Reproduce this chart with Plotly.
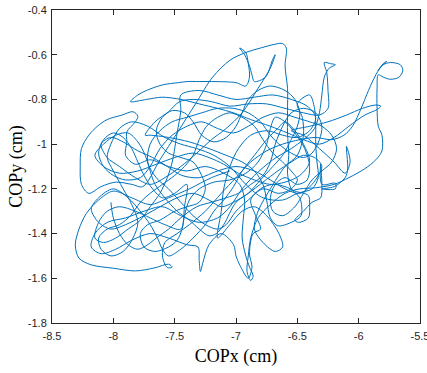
import plotly.graph_objects as go

# COP trajectory (cm)
cop_x = [
    -7.05, -7.20, -7.38, -7.55, -7.70, -7.85, -8.00, -8.12, -8.22, -8.28, -8.31, -8.28, -8.18, -8.00, -7.82,
    -7.66, -7.55, -7.52, -7.56, -7.60, -7.58, -7.48, -7.38, -7.25, -7.12, -7.00, -6.88, -6.75, -6.62,
    -6.48, -6.35, -6.22, -6.12, -6.05, -5.98, -5.92, -5.86, -5.80, -5.77, -5.82, -5.84, -5.80, -5.74,
    -5.66, -5.64, -5.67, -5.74, -5.80, -5.84, -5.85, -5.85, -5.84, -5.81, -5.81, -5.86, -5.95, -6.08,
    -6.20, -6.35, -6.48,
    -6.60, -6.72, -6.82, -6.88, -6.90, -6.91, -6.88, -6.86, -6.89, -6.92, -6.95, -6.94, -6.93, -6.97,
    -7.10, -7.25, -7.40, -7.55, -7.70, -7.82, -7.90, -7.89, -7.89, -7.82, -7.80, -7.84, -7.93, -8.05,
    -8.13, -8.20, -8.26, -8.27, -8.26, -8.20, -8.10, -7.98, -7.85, -7.76,
    -7.62, -7.48, -7.33, -7.19, -7.05, -6.92, -6.80, -6.68, -6.62, -6.59, -6.60, -6.58, -6.58, -6.58,
    -6.57, -6.58, -6.55, -6.48, -6.47, -6.55, -6.66, -6.72, -6.75, -6.78, -6.85, -6.95, -7.08, -7.22,
    -7.38, -7.55, -7.70, -7.74, -7.66, -7.55, -7.46, -7.35, -7.20, -7.05, -6.90, -6.75, -6.60, -6.45,
    -6.32, -6.25, -6.25, -6.26, -6.28, -6.23, -6.19, -6.24, -6.28, -6.30, -6.32, -6.36, -6.45, -6.55,
    -6.70, -6.85,
    -6.95, -7.05, -7.15, -7.30, -7.45, -7.60, -7.75, -7.90, -8.05, -8.15, -8.18, -8.10, -7.98, -7.85,
    -7.70, -7.55, -7.40, -7.31, -7.30, -7.29, -7.27, -7.22, -7.12, -7.02, -7.00, -6.97, -6.90, -6.87,
    -6.89, -6.86, -6.80, -6.84, -6.88, -6.80, -6.70, -6.60,
    -6.52, -6.41, -6.40, -6.41, -6.49, -6.52, -6.45, -6.38, -6.31, -6.30, -6.31, -6.30, -6.19, -6.19,
    -6.30, -6.20, -6.11, -6.09, -6.10, -6.07, -6.11, -6.20, -6.32,
    -6.45, -6.55, -6.40, -6.25, -6.10, -5.97, -5.86, -5.82, -5.85, -5.95, -6.08, -6.20, -6.32, -6.45,
    -6.58, -6.72, -6.88, -7.02, -7.15, -7.30, -7.45, -7.60, -7.73, -7.86, -7.80, -7.73, -7.60, -7.47,
    -7.40, -7.30, -7.20, -7.00, -6.92, -6.89, -6.90, -6.92, -6.97, -6.93, -6.89, -6.87, -6.85, -6.76,
    -6.70, -6.68, -6.72, -6.82, -6.95, -7.08, -7.20, -7.32, -7.45, -7.58, -7.70, -7.82, -7.95, -8.05,
    -8.10, -8.02, -7.92, -7.80, -7.68, -7.56, -7.44, -7.30, -7.15, -7.00, -6.85, -6.72, -6.60, -6.48,
    -6.38, -6.30, -6.36, -6.45, -6.55, -6.66, -6.78, -6.90, -7.02, -7.12, -7.22, -7.35, -7.48, -7.62,
    -7.75, -7.90, -8.02, -8.12, -8.18, -8.12, -8.00, -7.88, -7.78, -7.70, -7.64, -7.60, -7.55, -7.45,
    -7.35, -7.25, -7.18, -7.10, -7.02, -6.95, -6.85, -6.75, -6.66, -6.60, -6.52, -6.45, -6.40, -6.48,
    -6.60, -6.72, -6.85, -6.98, -7.10, -7.22, -7.35, -7.50, -7.65, -7.80, -7.95, -8.08, -8.15, -8.08,
    -7.98, -7.88, -7.80, -7.74, -7.70, -7.66, -7.58, -7.48, -7.38, -7.30, -7.22, -7.16, -7.10,
    -7.00, -6.90, -6.80, -6.70, -6.62, -6.55, -6.50, -6.48, -6.52, -6.60,
    -6.72, -6.82, -6.90, -6.95, -7.00, -7.08, -7.18, -7.28, -7.35, -7.42,
    -7.52, -7.60, -7.65, -7.62, -7.55, -7.45, -7.35, -7.28, -7.25, -7.30,
    -7.40, -7.50, -7.62, -7.72, -7.78, -7.75, -7.66, -7.55, -7.48, -7.44,
    -7.42, -7.38, -7.30, -7.18, -7.05, -6.92, -6.82, -6.75, -6.72, -6.68,
    -6.60, -6.52, -6.44, -6.40, -6.42, -6.50, -6.60, -6.68, -6.72, -6.70,
    -6.62, -6.52, -6.45, -6.38, -6.30, -6.22, -6.18, -6.22, -6.30, -6.40,
    -6.52, -6.65, -6.78, -6.90, -7.02, -7.15, -7.28, -7.40, -7.52, -7.62,
    -7.70, -7.78, -7.90, -8.00, -8.08, -8.12, -8.08, -8.00, -7.92, -7.85,
    -7.80, -7.75, -7.68, -7.60, -7.50, -7.40, -7.42, -7.45, -7.58, -7.70,
    -7.82, -7.95, -8.05, -8.12, -8.15, -8.08, -7.98, -7.88, -7.78, -7.70,
    -7.62, -7.56, -7.52, -7.48, -7.45, -7.45, -7.30, -7.15, -7.00, -6.85,
    -6.70, -6.55, -6.42, -6.35, -6.40, -6.50, -6.62, -6.75, -6.88, -6.98,
    -7.05, -7.10, -7.12, -7.15, -7.05, -6.95, -6.85, -6.75, -6.65, -6.62,
    -6.68, -6.78, -6.85, -6.82, -6.72, -6.60, -6.50, -6.45, -6.46, -6.50,
    -6.40, -6.36, -6.35, -6.35, -6.34, -6.33, -6.38, -6.50, -6.62, -6.78,
    -6.92, -7.05, -7.18, -7.32, -7.45, -7.58, -7.72, -7.85, -7.95, -8.02,
    -8.05, -8.00, -7.92, -7.85, -7.80, -7.84, -7.92, -8.02, -8.10, -8.12,
    -8.05, -7.95, -7.86, -7.78, -7.70, -7.60, -7.50, -7.42, -7.35, -7.30,
    -7.24, -7.15, -7.05, -6.95, -6.85, -6.78, -6.70, -6.62, -6.55, -6.50,
    -6.55, -6.65, -6.78, -6.90, -7.00, -7.08, -7.15, -7.25, -7.35, -7.45,
    -7.55, -7.65, -7.72, -7.70, -7.62, -7.52, -7.40, -7.28, -7.15, -7.02,
    -6.90, -6.80, -6.72, -6.65, -6.55, -6.45, -6.38, -6.32, -6.30, -6.35,
    -6.45, -6.55, -6.62, -6.68, -6.72, -6.78, -6.88, -6.98, -7.08, -7.20,
    -7.32, -7.45, -7.55, -7.65, -7.72, -7.80, -7.88, -7.95, -8.00, -8.02,
]
cop_y = [
    -1.12, -1.15, -1.20, -1.24, -1.27, -1.24, -1.21, -1.25, -1.31, -1.38, -1.45, -1.51, -1.54, -1.555, -1.567,
    -1.553, -1.537, -1.55, -1.552, -1.50, -1.44, -1.40, -1.36, -1.30, -1.22, -1.15, -1.08, -1.03, -1.00,
    -0.98, -0.97, -0.98, -0.96, -0.92, -0.84, -0.76, -0.69, -0.64, -0.63, -0.655, -0.67, -0.645, -0.635,
    -0.645, -0.67, -0.70, -0.71, -0.70, -0.69, -0.75, -0.84, -0.92, -0.96, -1.03, -1.07, -1.11, -1.15,
    -1.18, -1.195, -1.20,
    -1.22, -1.27, -1.33, -1.42, -1.50, -1.57, -1.61, -1.59, -1.55, -1.50, -1.42, -1.33, -1.25, -1.18,
    -1.13, -1.10, -1.12, -1.10, -1.07, -1.09, -1.05, -0.99, -0.945, -0.90, -0.875, -0.855, -0.87, -0.89,
    -0.92, -0.96, -1.02, -1.10, -1.18, -1.22, -1.19, -1.17, -1.18, -1.19,
    -1.07, -0.95, -0.82, -0.70, -0.625, -0.59, -0.57, -0.553, -0.55, -0.57, -0.65, -0.75, -0.85, -0.95,
    -1.05, -1.13, -1.20, -1.24, -1.32, -1.35, -1.365, -1.33, -1.25, -1.18, -1.12, -1.08, -1.05, -1.02,
    -0.99, -0.97, -0.96, -0.96, -0.90, -0.855, -0.81, -0.80, -0.81, -0.83, -0.82, -0.82, -0.84, -0.86,
    -0.87, -0.84, -0.76, -0.68, -0.635, -0.64, -0.645, -0.66, -0.70, -0.78, -0.86, -0.93, -0.98, -1.02,
    -1.07, -1.14,
    -1.20, -1.28, -1.33, -1.35, -1.32, -1.28, -1.30, -1.33, -1.35, -1.40, -1.46, -1.49, -1.47, -1.43,
    -1.40, -1.42, -1.45, -1.46, -1.52, -1.57, -1.53, -1.45, -1.40, -1.45, -1.50, -1.54, -1.60, -1.55,
    -1.49, -1.40, -1.38, -1.32, -1.25, -1.20, -1.18, -1.19,
    -1.21, -1.23, -1.27, -1.33, -1.35, -1.34, -1.30, -1.26, -1.24, -1.18, -1.09, -1.18, -1.175, -1.20,
    -1.20, -1.19, -1.15, -1.11, -1.01, -1.08, -1.13, -1.08, -1.02,
    -0.96, -0.94, -0.92, -0.90, -0.87, -0.84, -0.825, -0.83, -0.845, -0.87, -0.92, -0.97, -1.00, -0.98,
    -0.95, -0.92, -0.89, -0.86, -0.84, -0.82, -0.80, -0.79, -0.80, -0.81, -0.78, -0.76, -0.735, -0.725,
    -0.72, -0.72, -0.72, -0.725, -0.74, -0.70, -0.64, -0.59, -0.57, -0.60, -0.65, -0.69, -0.72, -0.70,
    -0.62, -0.60, -0.66, -0.75, -0.86, -0.93, -0.98, -1.04, -1.10, -1.15, -1.18, -1.15, -1.10, -1.06,
    -1.00, -0.97, -0.99, -1.03, -1.06, -1.10, -1.14, -1.15, -1.12, -1.10, -1.12, -1.16, -1.20, -1.22,
    -1.18, -1.10, -1.06, -1.05, -1.08, -1.12, -1.17, -1.22, -1.26, -1.28, -1.25, -1.22, -1.24, -1.28,
    -1.32, -1.36, -1.38, -1.35, -1.29, -1.24, -1.20, -1.24, -1.30, -1.36, -1.42, -1.47, -1.50, -1.47,
    -1.42, -1.36, -1.30, -1.25, -1.19, -1.12, -1.05, -0.98, -0.93, -0.90, -0.94, -1.00, -1.08, -1.14,
    -1.17, -1.18, -1.16, -1.13, -1.09, -1.06, -1.04, -1.06, -1.09, -1.12, -1.13, -1.10, -1.05, -1.00,
    -0.96, -0.95, -0.99, -1.05, -1.12, -1.18, -1.24, -1.30, -1.34, -1.38, -1.41, -1.40, -1.36,
    -1.26, -1.22, -1.16, -1.10, -1.05, -0.98, -0.92, -0.86, -0.80, -0.76,
    -0.74, -0.76, -0.80, -0.86, -0.92, -0.97, -0.99, -0.96, -0.90, -0.86,
    -0.85, -0.88, -0.94, -1.00, -1.04, -1.06, -1.08, -1.14, -1.20, -1.26,
    -1.28, -1.30, -1.34, -1.36, -1.40, -1.46, -1.48, -1.46, -1.43, -1.38,
    -1.32, -1.25, -1.20, -1.17, -1.16, -1.13, -1.08, -1.00, -0.93, -0.88,
    -0.90, -0.95, -1.02, -1.10, -1.16, -1.18, -1.15, -1.18, -1.24, -1.30,
    -1.32, -1.28, -1.22, -1.16, -1.12, -1.08, -1.02, -0.96, -0.92, -0.90,
    -0.88, -0.86, -0.88, -0.92, -0.95, -0.93, -0.90, -0.92, -0.96, -1.02,
    -1.10, -1.15, -1.16, -1.14, -1.10, -1.04, -0.98, -0.95, -0.97, -1.02,
    -1.08, -1.14, -1.20, -1.24, -1.22, -1.18, -1.28, -1.38, -1.36, -1.33,
    -1.30, -1.28, -1.30, -1.35, -1.42, -1.44, -1.42, -1.38, -1.34, -1.28,
    -1.22, -1.15, -1.08, -0.95, -0.85, -0.78, -0.76, -0.78, -0.80, -0.79,
    -0.78, -0.80, -0.83, -0.88, -0.94, -0.97, -0.96, -0.94, -0.96, -1.02,
    -1.10, -1.20, -1.30, -1.42, -1.36, -1.30, -1.28, -1.32, -1.40, -1.46,
    -1.48, -1.44, -1.38, -1.30, -1.20, -1.10, -1.05, -0.96, -0.88, -0.82,
    -0.78, -0.84, -0.92, -1.00, -1.08, -1.15, -1.20, -1.22, -1.25, -1.24,
    -1.18, -1.10, -1.05, -1.02, -1.00, -0.97, -0.92, -0.90, -0.93, -1.00,
    -1.06, -1.12, -1.20, -1.27, -1.35, -1.42, -1.48, -1.50, -1.47, -1.42,
    -1.38, -1.36, -1.32, -1.26, -1.22, -1.18, -1.14, -1.10, -1.05, -0.98,
    -0.92, -0.88, -0.86, -0.88, -0.92, -0.98, -1.04, -1.08, -1.12, -1.16,
    -1.20, -1.22, -1.20, -1.25, -1.30, -1.36, -1.38, -1.36, -1.32, -1.26,
    -1.20, -1.15, -1.08, -1.00, -0.94, -0.90, -0.88, -0.86, -0.84, -0.84,
    -0.86, -0.90, -0.96, -1.00, -1.04, -1.06, -1.04, -0.98, -0.92, -0.86,
    -0.84, -0.86, -0.92, -1.00, -1.08, -1.14, -1.18, -1.22, -1.24, -1.26,
    -1.28, -1.33, -1.38, -1.42, -1.45, -1.47, -1.45, -1.40, -1.33, -1.26,
]

x_ticks = [-8.5, -8, -7.5, -7, -6.5, -6, -5.5]
x_tick_text = ["-8.5", "-8", "-7.5", "-7", "-6.5", "-6", "-5.5"]
y_ticks = [-1.8, -1.6, -1.4, -1.2, -1, -0.8, -0.6, -0.4]
y_tick_text = ["-1.8", "-1.6", "-1.4", "-1.2", "-1", "-0.8", "-0.6", "-0.4"]

assert len(cop_x) == len(cop_y), (len(cop_x), len(cop_y))

fig = go.Figure()
fig.add_trace(go.Scatter(
    x=cop_x, y=cop_y, mode="lines",
    line=dict(color="#0072BD", width=1, shape="spline", smoothing=0.9),
    hoverinfo="skip", showlegend=False,
))

axis_common = dict(
    showgrid=False, zeroline=False, showline=True, linecolor="#262626", linewidth=1,
    mirror="ticks", ticks="inside", ticklen=5, tickcolor="#262626", tickwidth=1,
    automargin=False, ticklabeloverflow="allow",
    tickfont=dict(family="Liberation Sans, Arial, sans-serif", size=11, color="#262626"),
)
title_font = dict(family="Liberation Serif, Times New Roman, serif", size=18, color="#000000")

fig.update_layout(
    width=427, height=373,
    margin=dict(l=52, r=7, t=10, b=50),
    paper_bgcolor="white", plot_bgcolor="white",
    xaxis=dict(range=[-8.5, -5.5], tickvals=x_ticks, ticktext=x_tick_text, ticklabelstandoff=3,
               title=dict(text="COPx (cm)", standoff=8, font=title_font), **axis_common),
    yaxis=dict(range=[-1.8, -0.4], tickvals=y_ticks, ticktext=y_tick_text, ticklabelstandoff=2,
               title=dict(text="COPy (cm)", standoff=0, font=title_font), **axis_common),
)

fig.write_html("out.html", config={"displayModeBar": False},
               post_script="document.body.style.margin='0px';")
